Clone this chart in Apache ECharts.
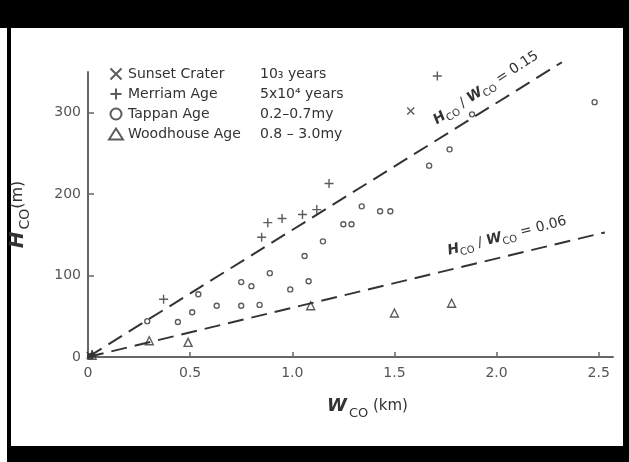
<!DOCTYPE html>
<html><head><meta charset="utf-8">
<script src="https://cdn.jsdelivr.net/npm/echarts@6/dist/echarts.min.js"></script>
<style>html,body{margin:0;padding:0;background:#fff}#c{width:629px;height:462px}</style>
</head><body><div id="c"></div>
<script>
// ---- data ----
const xTicks = [0, 0.5, 1.0, 1.5, 2.0, 2.5];
const xTickLabels = ['0', '0.5', '1.0', '1.5', '2.0', '2.5'];
const yTicks = [0, 100, 200, 300];
const yTickLabels = ['0', '100', '200', '300'];

const seriesNames = ['Sunset Crater', 'Merriam Age', 'Tappan Age', 'Woodhouse Age'];
const seriesAges = ['10\u2083 years', '5x10\u2074 years', '0.2\u20130.7my', '0.8 \u2013 3.0my'];

const sunset = [[0.01, 2], [1.58, 302]];
const merriam = [[0.02, 3], [0.37, 71], [0.85, 147], [0.88, 165], [0.95, 170], [1.05, 175], [1.12, 181], [1.18, 213], [1.71, 345]];
const tappan = [[0.01, 1], [0.29, 44], [0.44, 43], [0.51, 55], [0.54, 77], [0.63, 63], [0.75, 63], [0.75, 92], [0.80, 87],
  [0.84, 64], [0.89, 103], [0.99, 83], [1.06, 124], [1.08, 93], [1.15, 142], [1.25, 163], [1.29, 163], [1.34, 185],
  [1.43, 179], [1.48, 179], [1.67, 235], [1.77, 255], [1.88, 298], [2.48, 313]];
const woodhouse = [[0.02, 2], [0.30, 20], [0.49, 18], [1.09, 63], [1.50, 54], [1.78, 66]];

const line015 = [[0, 0], [2.32, 362]];
const line006 = [[0, 0], [2.53, 153]];

// ---- chart ----
const ink = '#333';
const chart = echarts.init(document.getElementById('c'), null, {renderer: 'canvas'});
const font = 'DejaVu Sans';

function scatter(name, data, symbol, size) {
  return {
    name, type: 'scatter', data, symbol, symbolSize: size,
    itemStyle: {color: 'rgba(0,0,0,0)', borderColor: ink, borderWidth: 1.4},
    z: 5
  };
}
function dashed(data) {
  return {
    type: 'line', data, symbol: 'none', silent: true, clip: false,
    lineStyle: {color: ink, width: 2, type: [16, 8]}, z: 3
  };
}

const richLegend = {
  a: {fontFamily: font, fontSize: 14, color: ink, width: 132, lineHeight: 16},
  b: {fontFamily: font, fontSize: 14, color: ink, lineHeight: 16}
};

function lineLabel(val) {
  return '{h|H}{s|CO}{n| / }{h|W}{s|CO}{n| = ' + val + '}';
}
const richLine = {
  h: {fontFamily: font, fontSize: 14, fontWeight: 'bold', fontStyle: 'italic', fill: ink},
  s: {fontFamily: font, fontSize: 10, fill: ink, padding: [10, 0, 0, 0]},
  n: {fontFamily: font, fontSize: 14, fill: ink}
};

chart.setOption({
  animation: false,
  backgroundColor: '#fff',
  grid: {left: 85, right: 16, top: 72, bottom: 105, containLabel: false},
  legend: {
    orient: 'vertical', left: 103, top: 62, itemGap: 6, itemWidth: 14, itemHeight: 11,
    data: seriesNames, selectedMode: false,
    formatter: function (n) {
      return '{a|' + n + '}{b|' + seriesAges[seriesNames.indexOf(n)] + '}';
    },
    textStyle: {rich: richLegend}
  },
  xAxis: {
    type: 'value', min: 0, max: 2.57,
    name: '{w|W}{s|CO}{u| (km)}', nameLocation: 'middle', nameGap: 36,
    nameTextStyle: {
      padding: [0, 0, 0, 34],
      rich: {
        w: {fontFamily: font, fontSize: 18, fontWeight: 'bold', fontStyle: 'italic', color: ink},
        s: {fontFamily: font, fontSize: 13, color: ink, padding: [14, 0, 0, 2]},
        u: {fontFamily: font, fontSize: 15, color: ink}
      }
    },
    axisLine: {onZero: false, lineStyle: {color: '#666', width: 2}},
    axisTick: {inside: true, length: 5, lineStyle: {color: '#666', width: 1.5}, customValues: xTicks.slice(1)},
    axisLabel: {
      customValues: xTicks, margin: 9, color: '#555', fontFamily: font, fontSize: 14,
      formatter: function (v) { return xTickLabels[xTicks.indexOf(Math.round(v * 10) / 10)] || ''; }
    },
    splitLine: {show: false}
  },
  yAxis: {
    type: 'value', min: 0, max: 350,
    name: '{h|H}{s|CO}{u|(m)}', nameLocation: 'middle', nameGap: 56, nameRotate: 90,
    nameTextStyle: {
      rich: {
        h: {fontFamily: font, fontSize: 20, fontWeight: 'bold', fontStyle: 'italic', color: ink},
        s: {fontFamily: font, fontSize: 14, color: ink, padding: [14, 0, 0, 2]},
        u: {fontFamily: font, fontSize: 16, color: ink}
      }
    },
    axisLine: {show: true, onZero: false, lineStyle: {color: '#666', width: 2}},
    axisTick: {show: true, inside: true, length: 6, lineStyle: {color: '#666', width: 1.5}, customValues: yTicks.slice(1)},
    axisLabel: {
      customValues: yTicks, margin: 7, color: '#555', fontFamily: font, fontSize: 14,
      formatter: function (v) { return yTickLabels[yTicks.indexOf(v)] || ''; }
    },
    splitLine: {show: false}
  },
  series: [
    scatter('Sunset Crater', sunset, 'path://M0,0L10,10M10,0L0,10', 7),
    scatter('Merriam Age', merriam, 'path://M5,0L5,10M0,5L10,5', 9),
    scatter('Tappan Age', tappan, 'circle', 5),
    scatter('Woodhouse Age', woodhouse, 'triangle', 8),
    dashed(line015),
    dashed(line006)
  ],
  graphic: [
    {type: 'rect', shape: {x: 0, y: 0, width: 629, height: 28}, style: {fill: '#000'}, silent: true},
    {type: 'rect', shape: {x: 7, y: 0, width: 4, height: 462}, style: {fill: '#000'}, silent: true},
    {type: 'rect', shape: {x: 623, y: 0, width: 6, height: 462}, style: {fill: '#000'}, silent: true},
    {type: 'rect', shape: {x: 7, y: 446, width: 622, height: 16}, style: {fill: '#000'}, silent: true},
    {type: 'text', x: 486, y: 88, rotation: 0.58, silent: true,
      style: {text: lineLabel('0.15'), rich: richLine, align: 'center', verticalAlign: 'middle'}},
    {type: 'text', x: 507, y: 236, rotation: 0.25, silent: true,
      style: {text: lineLabel('0.06'), rich: richLine, align: 'center', verticalAlign: 'middle'}}
  ]
});
</script></body></html>
